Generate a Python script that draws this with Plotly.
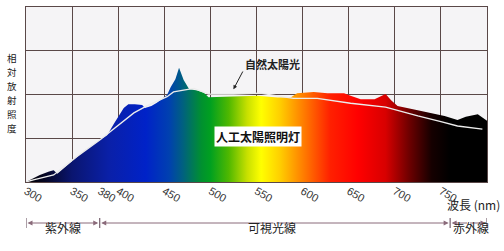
import plotly.graph_objects as go

# ---------------- data ----------------
# artificial solar lamp spectrum (filled area)
lamp_nm = [300, 305, 315, 325, 330, 334, 340, 349, 362, 380, 388, 395, 400, 406, 411,
           418, 426, 429, 436, 442, 453, 457, 462, 466, 471, 477, 486, 493, 498, 518,
           551, 573, 587, 594, 603, 612, 627, 645, 652, 663, 678, 690, 696, 703, 721,
           739, 754, 768, 777, 790, 799, 800]
lamp_val = [0.0, 0.05, 0.16, 0.24, 0.27, 0.19, 0.30, 0.46, 0.69, 0.96, 1.07, 1.32, 1.50, 1.69, 1.78,
            1.78, 1.76, 1.69, 1.74, 1.81, 1.99, 2.17, 2.35, 2.61, 2.33, 2.12, 2.09, 2.04, 1.94, 1.95,
            1.97, 1.93, 1.93, 2.03, 2.05, 2.06, 2.03, 2.03, 1.97, 1.89, 1.89, 2.01, 1.87, 1.74, 1.66,
            1.57, 1.51, 1.42, 1.49, 1.55, 1.42, 1.40]

# natural sunlight spectrum (white line)
sun_nm = [300, 308, 330, 355, 380, 391, 402, 417, 431, 453, 460, 482, 498, 525, 554,
          565, 590, 616, 630, 652, 690, 703, 725, 750, 768, 795]
sun_val = [0.0, 0.05, 0.16, 0.58, 0.96, 1.15, 1.34, 1.58, 1.74, 1.95, 2.06, 2.14, 2.01, 2.01, 2.03,
           1.99, 1.91, 1.91, 1.87, 1.80, 1.71, 1.63, 1.51, 1.38, 1.28, 1.21]

grid_ticks = [300, 350, 400, 450, 500, 550, 600, 650, 700, 750, 800]
label_ticks = [300, 350, 380, 400, 450, 500, 550, 600, 650, 700, 750, 800]

# wavelength bands (start, end, label)
band_edges = [300, 380, 760, 800]
band_labels = ["紫外線", "可視光線", "赤外線"]
band_label_x = [340, 567, 783]

y_title = "相対放射照度"

# ---------------- styles ----------------
spectrum_scale = [
    [0.00, "#000000"], [0.04, "#050522"], [0.10, "#0a1570"], [0.18, "#0a20a8"],
    [0.26, "#0022c8"], [0.31, "#0040b0"], [0.34, "#006080"], [0.38, "#009030"],
    [0.40, "#00a020"], [0.44, "#50b800"], [0.48, "#c8e000"], [0.51, "#ffff00"],
    [0.55, "#ffd000"], [0.60, "#ff8000"], [0.66, "#ff2000"], [0.72, "#ff0000"],
    [0.78, "#d80000"], [0.83, "#700000"], [0.88, "#150000"], [0.92, "#000000"],
    [1.00, "#000000"],
]
GRID = "#5a4848"
CJK = "Noto Sans CJK JP, Noto Sans CJK SC, sans-serif"
NUM = "Liberation Sans Narrow, Arial Narrow, Liberation Sans, sans-serif"

W, H = 504, 251
ML, MR, MT, MB = 26, 17, 7, 69
PW, PH = W - ML - MR, H - MT - MB


def py(pix):  # pixel y (from top) -> paper y
    return (H - MB - pix) / PH


def px(pix):  # pixel x -> paper x
    return (pix - ML) / PW


fig = go.Figure()
fig.add_trace(go.Scatter(
    x=lamp_nm, y=lamp_val, mode="lines", fill="tozeroy",
    line=dict(width=0, color="rgba(0,0,0,0)"),
    fillgradient=dict(type="horizontal", colorscale=spectrum_scale, start=300, stop=800),
    hoverinfo="skip", showlegend=False,
))
fig.add_trace(go.Scatter(
    x=sun_nm, y=sun_val, mode="lines",
    line=dict(width=1.3, color="#ececec"),
    hoverinfo="skip", showlegend=False,
))
# invisible trace to carry the label axis
fig.add_trace(go.Scatter(
    x=[300, 800], y=[0, 0], xaxis="x2", mode="markers",
    marker=dict(opacity=0), hoverinfo="skip", showlegend=False,
))

fig.update_layout(
    width=W, height=H,
    margin=dict(l=ML, r=MR, t=MT, b=MB),
    paper_bgcolor="white", plot_bgcolor="#f5f4f6",
    xaxis=dict(range=[300, 800], tickvals=grid_ticks, showticklabels=False,
               showgrid=True, gridcolor=GRID, gridwidth=1, zeroline=False,
               showline=True, mirror=True, linecolor=GRID, linewidth=1, ticks=""),
    xaxis2=dict(range=[300, 800], overlaying="x", side="bottom", anchor="y",
                tickvals=label_ticks, ticktext=[str(v) for v in label_ticks],
                showgrid=False, zeroline=False, ticks="", showline=False,
                tickfont=dict(family=NUM, size=11, color="#333333")),
    yaxis=dict(range=[0, 4], dtick=1, showticklabels=False, showgrid=True,
               gridcolor=GRID, gridwidth=1, zeroline=False,
               showline=True, mirror=True, linecolor=GRID, linewidth=1, ticks=""),
)

ann = []
# y-axis title, stacked vertically (one upright character per row)
n = len(y_title)
step = 14.0
for i, ch in enumerate(y_title):
    ann.append(dict(text=ch, xref="paper", yref="paper", x=px(12),
                    y=py(93 + (i - (n - 1) / 2) * step),
                    showarrow=False, xanchor="center", yanchor="middle",
                    font=dict(family=CJK, size=9.5, color="#222222")))

# 自然太陽光 label and leader arrow
ann.append(dict(text="<b>自然太陽光</b>", xref="x", yref="y", x=567, y=2.70,
                showarrow=False, font=dict(family=CJK, size=11, color="#222222")))
ann.append(dict(text="", xref="x", yref="y", x=525, y=2.12, axref="x", ayref="y",
                ax=536, ay=2.56, showarrow=True, arrowhead=2, arrowsize=0.8,
                arrowwidth=1, arrowcolor="#222222"))
# 人工太陽照明灯 label
ann.append(dict(text="<b>人工太陽照明灯</b>", xref="x", yref="y", x=552, y=1.03,
                showarrow=False, bgcolor="white", borderpad=1,
                font=dict(family=CJK, size=12, color="#111111")))
# axis unit
ann.append(dict(text="波長 (nm)", xref="paper", yref="paper", x=px(502), y=py(204),
                showarrow=False, xanchor="right", yanchor="middle",
                font=dict(family=CJK, size=12, color="#222222")))

# band brackets
ybr = py(223)
shapes = []
for e in band_edges:
    shapes.append(dict(type="line", xref="x", yref="paper", x0=e, x1=e,
                       y0=py(218), y1=py(228), line=dict(color="#5a4050", width=1)))
for (a, b), lab, lx in zip(zip(band_edges[:-1], band_edges[1:]), band_labels, band_label_x):
    mid = (a + b) / 2
    for tip in (a, b):
        ann.append(dict(text="", xref="x", yref="paper", x=tip, y=ybr,
                        axref="x", ayref="pixel", ax=mid, ay=0, showarrow=True,
                        arrowhead=2, arrowsize=1, arrowwidth=1, standoff=1.5,
                        arrowcolor="#8a6a7a"))
    ann.append(dict(text=lab, xref="x", yref="paper", x=lx, y=py(238),
                    showarrow=False, font=dict(family=CJK, size=12, color="#222222")))

fig.update_layout(annotations=ann, shapes=shapes)
fig.write_html("out.html")
